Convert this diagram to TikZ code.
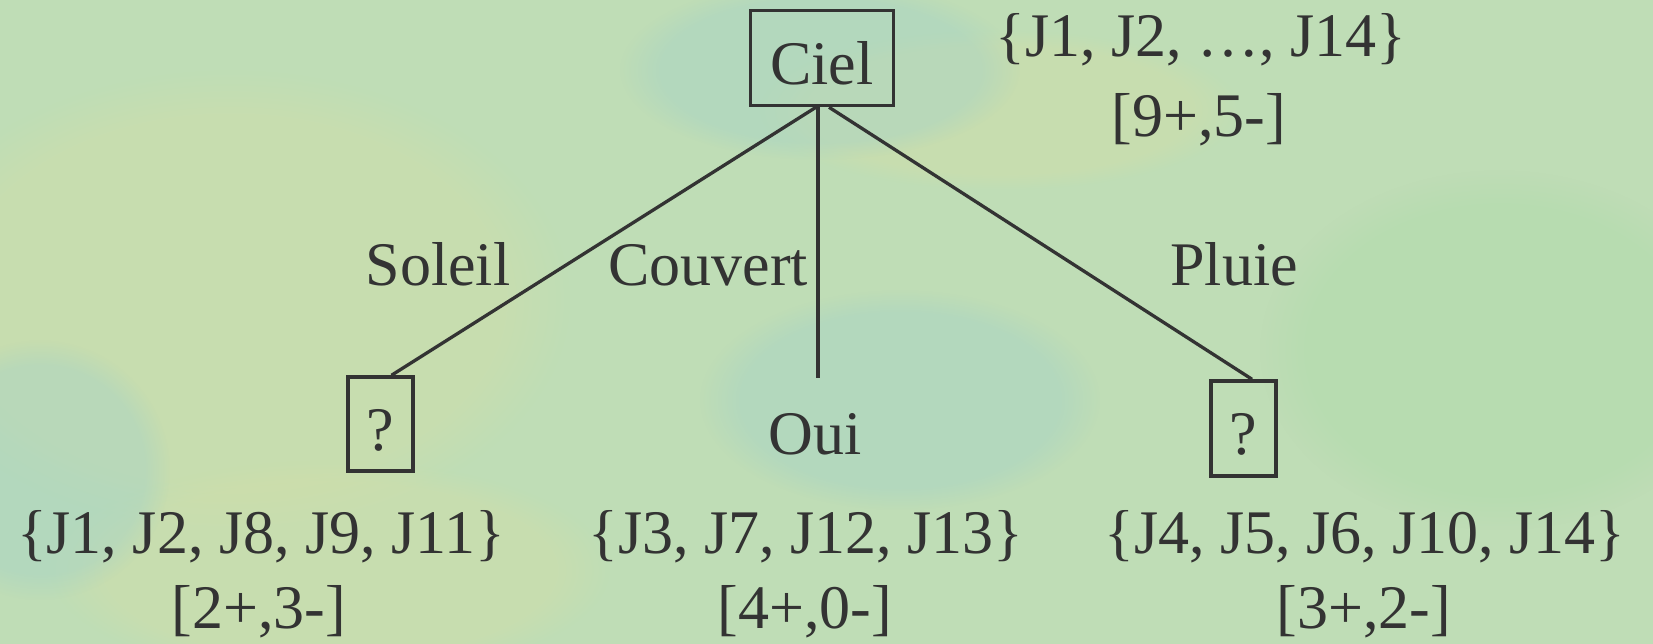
\documentclass[tikz,border=0pt]{standalone}
\usepackage{fontspec}
\setmainfont{Liberation Serif}
\usetikzlibrary{calc,fadings}
\definecolor{ink}{HTML}{333333}
\definecolor{bg}{HTML}{BFDDB6}
\definecolor{yel}{HTML}{D2DEA8}
\definecolor{blu}{HTML}{A6D3C6}
\definecolor{grn}{HTML}{AEDCAA}
\begin{document}
\begin{tikzpicture}[x=1pt,y=-1pt,
  lbl/.style={text=ink, font=\fontsize{62}{74}\selectfont, inner sep=0pt, anchor=base},
  boxed/.style={draw=ink, line width=3.5pt, inner sep=0pt},
  conn/.style={draw=ink, line width=3.3pt},
  patch/.style={fill=#1, fill opacity=0.45, path fading=circle with fuzzy edge 20 percent}]
\useasboundingbox (0,0) rectangle (1653,644);
\fill[bg] (0,0) rectangle (1653,644);
% background colour patches
\fill[patch=yel] (230,300) ellipse [x radius=340, y radius=230];
\fill[patch=yel] (330,570) ellipse [x radius=280, y radius=110];
\fill[patch=yel] (1000,110) ellipse [x radius=240, y radius=80];
\fill[patch=blu] (820,70) ellipse [x radius=200, y radius=90];
\fill[patch=blu] (900,400) ellipse [x radius=200, y radius=110];
\fill[patch=blu] (40,470) ellipse [x radius=130, y radius=130];
\fill[patch=grn] (1500,350) ellipse [x radius=240, y radius=180];
% boxes
\node[boxed, minimum width=143pt, minimum height=95pt] (ciel) at (822,58) {};
\node[lbl] (cieltxt) at (822,85) {Ciel};
\node[boxed, minimum width=65pt, minimum height=94pt] (q1) at (380.5,424) {};
\node[lbl] (q1txt) at (380,450) {?};
\node[boxed, minimum width=65pt, minimum height=95pt] (q2) at (1243.5,428.5) {};
\node[lbl] (q2txt) at (1243,454) {?};
\coordinate (ouitop) at (818,378);
% connectors
\draw[conn] ($(ciel.south)+(-6,0)$) -- ($(q1.north)+(11,0)$);
\draw[conn] ($(ciel.south)+(-4,0)$) -- (ouitop);
\draw[conn] ($(ciel.south)+(7,0)$) -- ($(q2.north)+(8.5,0)$);
% edge labels
\node[lbl] (soleil) at (438,285) {Soleil};
\node[lbl] (couvert) at (708,285) {Couvert};
\node[lbl] (pluie) at (1234,285) {Pluie};
\node[lbl] (oui) at (815,454) {Oui};
% sets
\node[lbl] (s0) at (1201,57) {\{J1, J2, …, J14\}};
\node[lbl] (c0) at (1199,137) {[9+,5-]};
\node[lbl] (s1) at (261,553) {\{J1, J2, J8, J9, J11\}};
\node[lbl] (c1) at (259,628) {[2+,3-]};
\node[lbl] (s2) at (806,553) {\{J3, J7, J12, J13\}};
\node[lbl] (c2) at (805,628) {[4+,0-]};
\node[lbl] (s3) at (1365,553) {\{J4, J5, J6, J10, J14\}};
\node[lbl] (c3) at (1364,628) {[3+,2-]};
\end{tikzpicture}
\end{document}
